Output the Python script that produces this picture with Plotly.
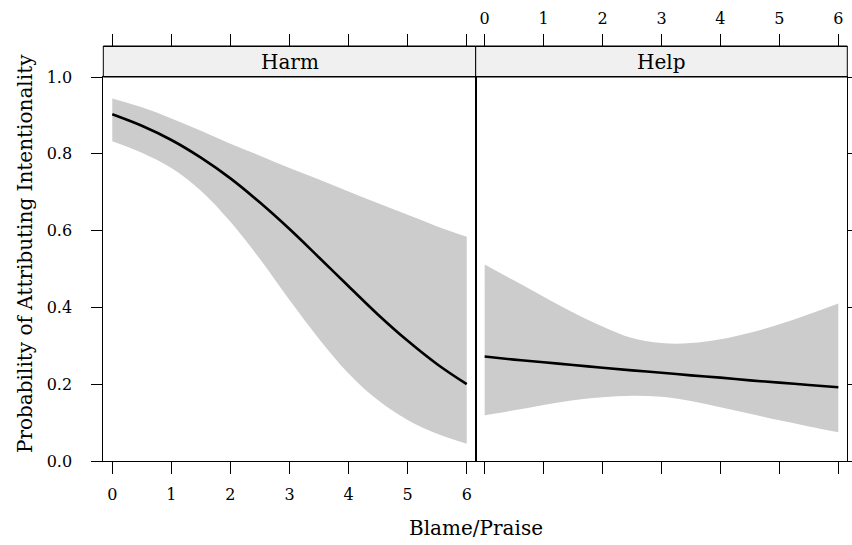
import plotly.graph_objects as go

# ---------------- data ----------------
panels = ["Harm", "Help"]
blame_praise = [0, 0.5, 1, 1.5, 2, 2.5, 3, 3.5, 4, 4.5, 5, 5.5, 6]

harm_fit = [0.903, 0.873, 0.836, 0.790, 0.736, 0.673, 0.604, 0.530, 0.455, 0.381, 0.313, 0.252, 0.200]
harm_upper = [0.944, 0.921, 0.892, 0.860, 0.826, 0.795, 0.763, 0.733, 0.702, 0.671, 0.641, 0.611, 0.584]
harm_lower = [0.833, 0.803, 0.763, 0.704, 0.623, 0.526, 0.419, 0.318, 0.228, 0.158, 0.107, 0.071, 0.045]

help_fit = [0.272, 0.264, 0.257, 0.250, 0.243, 0.236, 0.230, 0.223, 0.217, 0.210, 0.204, 0.198, 0.192]
help_upper = [0.512, 0.470, 0.428, 0.387, 0.350, 0.320, 0.307, 0.307, 0.317, 0.334, 0.356, 0.382, 0.410]
help_lower = [0.119, 0.132, 0.146, 0.158, 0.166, 0.170, 0.167, 0.156, 0.140, 0.123, 0.106, 0.090, 0.075]

x_ticks = [0, 1, 2, 3, 4, 5, 6]
x_ticktext = ["0", "1", "2", "3", "4", "5", "6"]
y_ticks = [0.0, 0.2, 0.4, 0.6, 0.8, 1.0]
y_ticktext = ["0.0", "0.2", "0.4", "0.6", "0.8", "1.0"]

x_title = "Blame/Praise"
y_title = "Probability of Attributing Intentionality"

# ---------------- layout geometry ----------------
W, H = 852, 545
FONT = "DejaVu Serif"
BAND = "#CCCCCC"
STRIP = "#F0F0F0"

def fx(p):
    return p / W

def fy(p):
    return 1 - p / H

left_dom = [fx(103.3), fx(475.7)]
right_dom = [fx(475.7), fx(847.3)]
y_dom = [fy(461), fy(77)]
strip_bot, strip_top = fy(77), fy(46)
xr = [-0.152, 6.152]

fig = go.Figure()

# bands
fig.add_trace(go.Scatter(x=blame_praise, y=harm_lower, mode="lines", line=dict(width=0, shape="spline"),
                         xaxis="x", yaxis="y", showlegend=False, hoverinfo="skip"))
fig.add_trace(go.Scatter(x=blame_praise, y=harm_upper, mode="lines", line=dict(width=0, shape="spline"),
                         fill="tonexty", fillcolor=BAND, xaxis="x", yaxis="y", showlegend=False, hoverinfo="skip"))
fig.add_trace(go.Scatter(x=blame_praise, y=help_lower, mode="lines", line=dict(width=0, shape="spline"),
                         xaxis="x2", yaxis="y2", showlegend=False, hoverinfo="skip"))
fig.add_trace(go.Scatter(x=blame_praise, y=help_upper, mode="lines", line=dict(width=0, shape="spline"),
                         fill="tonexty", fillcolor=BAND, xaxis="x2", yaxis="y2", showlegend=False, hoverinfo="skip"))
# fitted lines
fig.add_trace(go.Scatter(x=blame_praise, y=harm_fit, mode="lines", line=dict(color="black", width=2.6, shape="spline"),
                         xaxis="x", yaxis="y", showlegend=False))
fig.add_trace(go.Scatter(x=blame_praise, y=help_fit, mode="lines", line=dict(color="black", width=2.6, shape="spline"),
                         xaxis="x2", yaxis="y2", showlegend=False))
# invisible carriers so the top (strip) axes are drawn
fig.add_trace(go.Scatter(x=blame_praise, y=harm_fit, mode="lines", line=dict(width=0), opacity=0,
                         xaxis="x3", yaxis="y", showlegend=False, hoverinfo="skip"))
fig.add_trace(go.Scatter(x=blame_praise, y=help_fit, mode="lines", line=dict(width=0), opacity=0,
                         xaxis="x4", yaxis="y2", showlegend=False, hoverinfo="skip"))

tickfont = dict(family=FONT, size=16, color="black")
common_x = dict(range=xr, tickmode="array", tickvals=x_ticks, ticktext=x_ticktext, ticks="outside",
                ticklen=12, tickwidth=1, tickcolor="black", showline=True, linecolor="black", linewidth=1,
                showgrid=False, zeroline=False, tickfont=tickfont, fixedrange=True, automargin=False)
common_y = dict(range=[0, 1], domain=y_dom, tickmode="array", tickvals=y_ticks, ticktext=y_ticktext,
                ticks="outside", ticklen=11, tickwidth=1, tickcolor="black", showline=True, linecolor="black",
                linewidth=1, showgrid=False, zeroline=False, tickfont=tickfont, fixedrange=True, mirror=True,
                automargin=False)

fig.update_layout(
    width=W, height=H, autosize=False,
    margin=dict(l=0, r=0, t=0, b=0, pad=0),
    paper_bgcolor="white", plot_bgcolor="white",
    showlegend=False,
    xaxis=dict(domain=left_dom, anchor="y", mirror=True, ticklabelstandoff=7, **common_x),
    xaxis2=dict(domain=right_dom, anchor="y2", mirror=True, showticklabels=False, **common_x),
    xaxis3=dict(domain=left_dom, overlaying="x", side="top", anchor="free", position=strip_top,
                showticklabels=False, **common_x),
    xaxis4=dict(domain=right_dom, overlaying="x2", side="top", anchor="free", position=strip_top,
                ticklabelstandoff=4, **common_x),
    yaxis=dict(anchor="x", ticklabelstandoff=16, **common_y),
    yaxis2=dict(anchor="x2", side="right", showticklabels=False, **common_y),
)

# strips
for dom in (left_dom, right_dom):
    fig.add_shape(type="rect", xref="paper", yref="paper", x0=dom[0], x1=dom[1], y0=strip_bot, y1=strip_top,
                  fillcolor=STRIP, line=dict(color="black", width=1), layer="below")

annos = [
    dict(text=panels[0], x=(left_dom[0] + left_dom[1]) / 2, y=fy(62)),
    dict(text=panels[1], x=(right_dom[0] + right_dom[1]) / 2, y=fy(62)),
]
for a in annos:
    fig.add_annotation(xref="paper", yref="paper", x=a["x"], y=a["y"], text=a["text"], showarrow=False,
                       xanchor="center", yanchor="middle", font=dict(family=FONT, size=20, color="black"))

fig.add_annotation(xref="paper", yref="paper", x=fx(475.5), y=fy(528), text=x_title, showarrow=False,
                   xanchor="center", yanchor="middle", font=dict(family=FONT, size=20, color="black"))
fig.add_annotation(xref="paper", yref="paper", x=fx(25), y=fy(254), text=y_title, showarrow=False,
                   textangle=-90, xanchor="center", yanchor="middle", font=dict(family=FONT, size=20, color="black"))

fig.write_html("out.html", config={"displayModeBar": False},
               post_script="document.body.style.margin='0px';document.body.style.overflow='hidden';")
